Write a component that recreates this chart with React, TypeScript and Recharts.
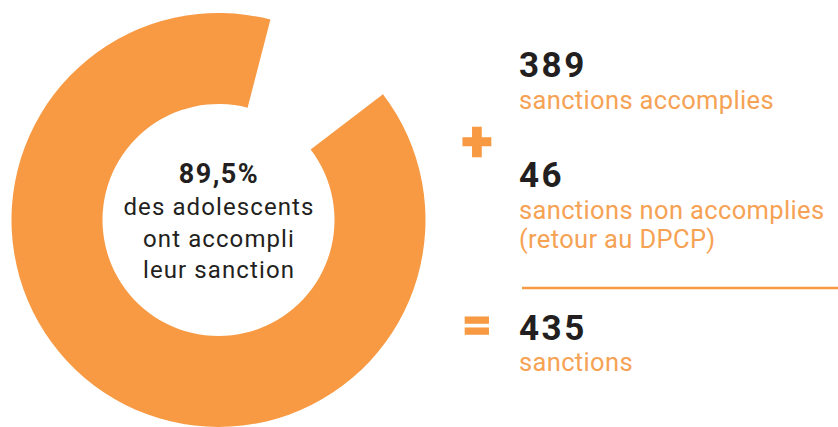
import React from 'react';
import { PieChart, Pie, Cell, Customized } from 'recharts';

// counts
const segmentNames = ['sanctions accomplies', 'sanctions non accomplies'];
const segmentCounts = [389, 46];
const totalCount = 435;
const percentLabel = '89,5%';
const centerLines = ['des adolescents', 'ont accompli', 'leur sanction'];
const noteLabels = ['sanctions accomplies', 'sanctions non accomplies', '(retour au DPCP)', 'sanctions'];

const ORANGE = '#F79A43';
const ORANGE_TEXT = '#F6A254';
const DARK = '#231F20';
const FONT = 'Roboto, "Noto Sans", sans-serif';

const pieData = segmentNames.map((name, i) => ({ name, value: segmentCounts[i] }));

// gap (non accomplies) sits to the upper right; accomplies runs clockwise from it
const START = 37.4;

const Annotations = () => (
  <g fontFamily={FONT}>
    {/* centre text */}
    <text x={219} y={183} textAnchor="middle" fontSize={27} fontWeight={700} letterSpacing={1.5} fill={DARK}>
      {percentLabel}
    </text>
    {centerLines.map((l, i) => (
      <text key={l} x={219} y={215 + i * 31.5} textAnchor="middle" fontSize={24} letterSpacing={1.1} fill={DARK}>
        {l}
      </text>
    ))}

    {/* right-hand summary */}
    <text x={519} y={77} fontSize={35} fontWeight={700} letterSpacing={2.5} fill={DARK}>{segmentCounts[0]}</text>
    <text x={519} y={109} fontSize={25.5} letterSpacing={0.35} fill={ORANGE_TEXT}>{noteLabels[0]}</text>

    <text x={477} y={160} textAnchor="middle" fontSize={54} fontWeight={700} fill={ORANGE} stroke={ORANGE} strokeWidth={2.5}>+</text>

    <text x={519} y={187} fontSize={35} fontWeight={700} letterSpacing={2.5} fill={DARK}>{segmentCounts[1]}</text>
    <text x={519} y={219} fontSize={25.5} letterSpacing={0.35} fill={ORANGE_TEXT}>{noteLabels[1]}</text>
    <text x={519} y={248} fontSize={25.5} letterSpacing={0.35} fill={ORANGE_TEXT}>{noteLabels[2]}</text>

    <line x1={522} x2={838} y1={288} y2={288} stroke={ORANGE} strokeWidth={2.5} />

    <text x={477} y={342} textAnchor="middle" fontSize={52} fontWeight={700} fill={ORANGE} stroke={ORANGE} strokeWidth={1.5}>=</text>

    <text x={519} y={340} fontSize={35} fontWeight={700} letterSpacing={2.5} fill={DARK}>{totalCount}</text>
    <text x={519} y={371} fontSize={25.5} letterSpacing={0.35} fill={ORANGE_TEXT}>{noteLabels[3]}</text>
  </g>
);

export default function App() {
  return (
    <div style={{ position: 'absolute', left: 0, top: 0, width: 838, height: 427, background: '#fff' }}>
      <PieChart width={838} height={427} margin={{ top: 0, right: 0, bottom: 0, left: 0 }}>
        <Pie
          data={pieData}
          dataKey="value"
          nameKey="name"
          cx={218.5}
          cy={220}
          innerRadius={116}
          outerRadius={207}
          startAngle={START}
          endAngle={START - 360}
          stroke="none"
          isAnimationActive={false}
        >
          <Cell fill={ORANGE} />
          <Cell fill="transparent" />
        </Pie>
        <Customized component={Annotations} />
      </PieChart>
    </div>
  );
}
